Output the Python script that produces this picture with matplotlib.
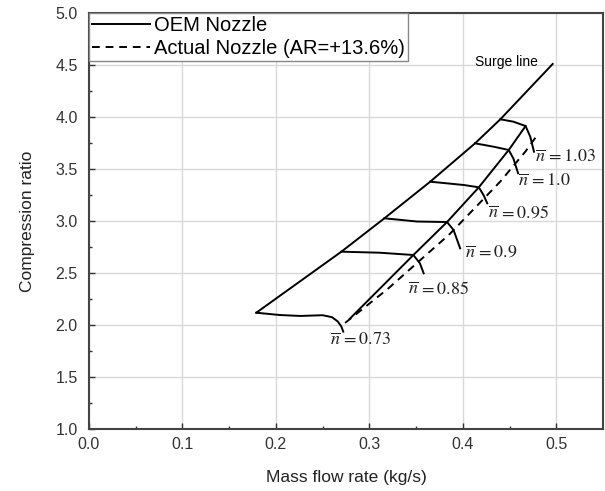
import matplotlib.pyplot as plt
import numpy as np

plt.rcParams['font.family'] = ['Liberation Sans', 'DejaVu Sans']
plt.rcParams['mathtext.fontset'] = 'stix'

# surge line (mass flow, compression ratio)
surge_x = [0.179, 0.270, 0.316, 0.365, 0.413, 0.440, 0.496]
surge_y = [2.118, 2.705, 3.026, 3.378, 3.747, 3.978, 4.51]

# OEM speed lines
speeds = ["0.73", "0.85", "0.9", "0.95", "1.0", "1.03"]
speed_x = [
    [0.179, 0.204, 0.226, 0.250, 0.260, 0.266, 0.270, 0.272],
    [0.270, 0.311, 0.347, 0.354, 0.358],
    [0.316, 0.351, 0.383, 0.390, 0.397],
    [0.365, 0.401, 0.417, 0.422, 0.426],
    [0.413, 0.433, 0.449, 0.454, 0.459],
    [0.440, 0.454, 0.467, 0.472, 0.476],
]
speed_y = [
    [2.118, 2.096, 2.087, 2.094, 2.075, 2.035, 1.985, 1.936],
    [2.705, 2.695, 2.673, 2.593, 2.497],
    [3.026, 2.995, 2.990, 2.913, 2.737],
    [3.378, 3.346, 3.324, 3.250, 3.170],
    [3.747, 3.714, 3.683, 3.600, 3.459],
    [3.978, 3.955, 3.913, 3.811, 3.666],
]

# OEM choke line through the knees
choke_x = [0.279, 0.347, 0.383, 0.417, 0.449, 0.467]
choke_y = [2.06, 2.673, 2.990, 3.324, 3.683, 3.913]

# actual nozzle (AR=+13.6%) choke line
actual_x = [0.274, 0.320, 0.3865, 0.440, 0.467, 0.479]
actual_y = [2.02, 2.35, 2.880, 3.380, 3.670, 3.820]

# label positions for n-bar
label_x = [0.258, 0.341, 0.4026, 0.4265, 0.4586, 0.4776]
label_y = [1.849, 2.343, 2.695, 3.074, 3.378, 3.606]

fig = plt.figure(figsize=(6.05, 4.91), dpi=100)
ax = fig.add_axes([0.147, 0.1263, 0.85, 0.8472])

ax.plot(surge_x, surge_y, color='black', lw=1.4, label='OEM Nozzle')
for xs, ys in zip(speed_x, speed_y):
    ax.plot(xs, ys, color='black', lw=1.4)
ax.plot(choke_x, choke_y, color='black', lw=1.4)
ax.plot(actual_x, actual_y, color='black', lw=1.4, ls=(0, (4, 3)),
        label='Actual Nozzle (AR=+13.6%)')

for s, lx, ly in zip(speeds, label_x, label_y):
    ax.text(lx, ly, r'$\overline{n}\,=%s$' % s, fontsize=13, va='center', ha='left',
            color='#222222')

ax.text(0.446, 4.53, 'Surge line', fontsize=10, ha='center', va='center')

ax.set_xlim(0, 0.55)
ax.set_ylim(1.0, 5.0)
ax.set_xticks(np.arange(0, 0.51, 0.1))
ax.set_xticks(np.arange(0.05, 0.55, 0.1), minor=True)
ax.set_yticks(np.arange(1.0, 5.01, 0.5))
ax.set_yticks(np.arange(1.25, 5.0, 0.5), minor=True)
ax.set_xticklabels(['0.0', '0.1', '0.2', '0.3', '0.4', '0.5'])
ax.tick_params(which='both', direction='in', labelsize=11.5, colors='#333333',
               labelcolor='#333333')
ax.tick_params(axis='y', pad=8)
ax.tick_params(axis='x', pad=6)
ax.tick_params(which='major', length=4, width=1)
ax.tick_params(which='minor', length=2.5, width=1)
ax.grid(True, color='#d9d9d9', lw=1)
ax.set_axisbelow(True)
for sp in ax.spines.values():
    sp.set_linewidth(1.5)
    sp.set_color('#444444')

ax.set_xlabel('Mass flow rate (kg/s)', fontsize=12.5, color='#222222', labelpad=13)
ax.set_ylabel('Compression ratio', fontsize=12.5, color='#222222', labelpad=15)

leg = ax.legend(loc='upper left', fontsize=14.5, borderaxespad=0, fancybox=False,
                handlelength=2.9, handletextpad=0.2, borderpad=0.15,
                labelspacing=0.2, framealpha=1)
leg.get_frame().set_edgecolor('#888888')
leg.get_frame().set_linewidth(1)

plt.savefig('out.png', dpi=100)
